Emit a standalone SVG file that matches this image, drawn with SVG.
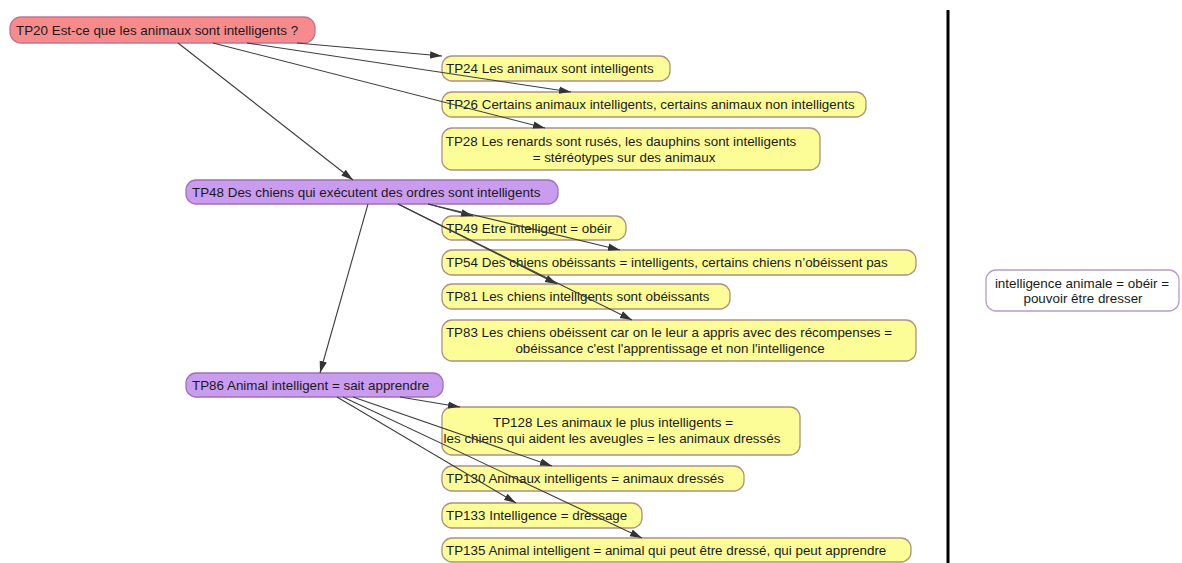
<svg xmlns="http://www.w3.org/2000/svg" width="1182" height="563" viewBox="0 0 1182 563">
<style>
  text { font-family: "Liberation Sans", Arial, sans-serif; font-size: 13.4px; fill: #1a1a1a; }
  .c { text-anchor: middle; }
  .red rect { fill: #f78b8c; stroke: #c27592; stroke-width: 1.3; }
  .pur rect { fill: #c99cef; stroke: #9c72b8; stroke-width: 1.3; }
  .yel rect { fill: #fdfd97; stroke: #ab9282; stroke-width: 1.3; }
  .wht rect { fill: #ffffff; stroke: #b99ac9; stroke-width: 1.3; }
  .edges line { stroke: #3c3c3c; stroke-width: 1.1; marker-end: url(#arr); }
</style>
<defs>
  <marker id="arr" markerUnits="userSpaceOnUse" markerWidth="13" markerHeight="9" refX="12" refY="4.5" orient="auto">
    <path d="M0,0.8 L12,4.5 L0,8.2 Z" fill="#333333"/>
  </marker>
</defs>
<rect x="0" y="0" width="1182" height="563" fill="#ffffff"/>
<line x1="948" y1="10" x2="948" y2="563" stroke="#000000" stroke-width="3"/>

<g id="TP20" class="red"><rect x="10" y="17" width="305" height="26" rx="11"/><text x="16" y="34.5">TP20 Est-ce que les animaux sont intelligents ?</text></g>
<g id="TP24" class="yel"><rect x="442" y="56" width="228" height="25" rx="10"/><text x="446" y="73">TP24 Les animaux sont intelligents</text></g>
<g id="TP26" class="yel"><rect x="442" y="92" width="424" height="25" rx="10"/><text x="446" y="109">TP26 Certains animaux intelligents, certains animaux non intelligents</text></g>
<g id="TP28" class="yel"><rect x="442" y="128" width="378" height="42" rx="10"/><text class="c" x="621" y="145.5">TP28 Les renards sont rusés, les dauphins sont intelligents</text><text class="c" x="624" y="161.5">= stéréotypes sur des animaux</text></g>
<g id="TP48" class="pur"><rect x="186" y="180" width="372" height="24" rx="10"/><text x="192" y="196.5">TP48 Des chiens qui exécutent des ordres sont intelligents</text></g>
<g id="TP49" class="yel"><rect x="442" y="216" width="184" height="24" rx="10"/><text x="446" y="232.5">TP49 Etre intelligent = obéir</text></g>
<g id="TP54" class="yel"><rect x="442" y="250" width="474" height="25" rx="10"/><text x="446" y="267">TP54 Des chiens obéissants = intelligents, certains chiens n’obéissent pas</text></g>
<g id="TP81" class="yel"><rect x="442" y="284" width="288" height="25" rx="10"/><text x="446" y="301">TP81 Les chiens intelligents sont obéissants</text></g>
<g id="TP83" class="yel"><rect x="442" y="320" width="474" height="41" rx="10"/><text class="c" x="669" y="337">TP83 Les chiens obéissent car on le leur a appris avec des récompenses =</text><text class="c" x="670" y="353">obéissance c'est l'apprentissage et non l'intelligence</text></g>
<g id="TP86" class="pur"><rect x="186" y="373" width="257" height="24" rx="10"/><text x="192" y="389.5">TP86 Animal intelligent = sait apprendre</text></g>
<g id="TP128" class="yel"><rect x="442" y="407" width="358" height="48" rx="10"/><text class="c" x="613" y="426.5">TP128 Les animaux le plus intelligents =</text><text class="c" x="612" y="442.5">les chiens qui aident les aveugles = les animaux dressés</text></g>
<g id="TP130" class="yel"><rect x="442" y="466" width="302" height="25" rx="10"/><text x="446" y="483">TP130 Animaux intelligents = animaux dressés</text></g>
<g id="TP133" class="yel"><rect x="442" y="503" width="200" height="25" rx="10"/><text x="446" y="520">TP133 Intelligence = dressage</text></g>
<g id="TP135" class="yel"><rect x="442" y="538" width="469" height="24" rx="10"/><text x="446" y="554.5">TP135 Animal intelligent = animal qui peut être dressé, qui peut apprendre</text></g>
<g id="note" class="wht"><rect x="986" y="270" width="193" height="41" rx="10"/><text class="c" x="1082" y="287.5">intelligence animale = obéir =</text><text class="c" x="1083" y="302.5">pouvoir être dresser</text></g>

<g id="connectors" class="edges">
  <line x1="297" y1="43" x2="442" y2="56"/>
  <line x1="247" y1="43" x2="571" y2="92"/>
  <line x1="213" y1="43" x2="545" y2="128"/>
  <line x1="178" y1="43" x2="353" y2="180"/>
  <line x1="428" y1="204" x2="473" y2="216"/>
  <line x1="428" y1="204" x2="620" y2="250"/>
  <line x1="398" y1="204" x2="557" y2="284"/>
  <line x1="398" y1="204" x2="632" y2="320"/>
  <line x1="368" y1="204" x2="320" y2="373"/>
  <line x1="400" y1="397" x2="460" y2="407"/>
  <line x1="353" y1="397" x2="552" y2="466"/>
  <line x1="337" y1="397" x2="516" y2="503"/>
  <line x1="343" y1="397" x2="642" y2="538"/>
</g>
</svg>
